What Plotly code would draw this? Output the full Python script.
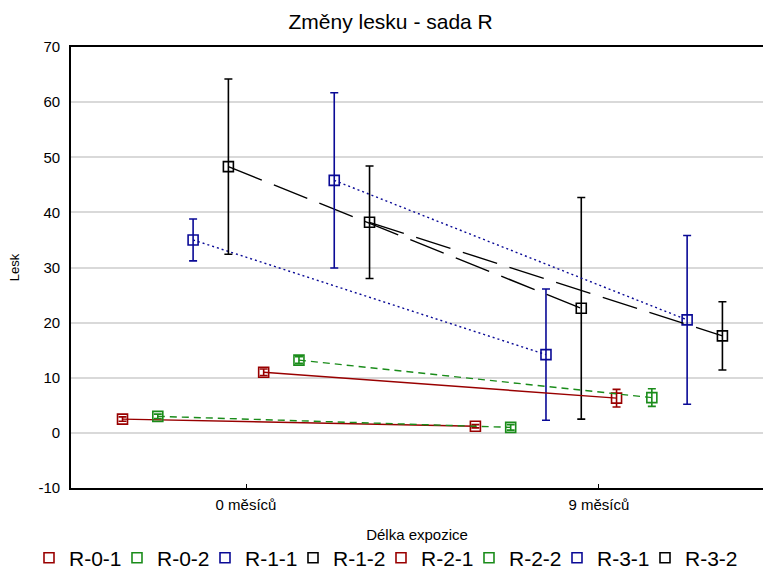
import plotly.graph_objects as go

# Exposure categories on the x axis
categories = ["0 měsíců", "9 měsíců"]

# Series names (sample sets)
series = ["R-0-1", "R-0-2", "R-1-1", "R-1-2", "R-2-1", "R-2-2", "R-3-1", "R-3-2"]

# Mean gloss at 0 and 9 months
mean_0 = [2.5, 3.0, 35.0, 48.3, 11.0, 13.2, 45.8, 38.2]
mean_9 = [1.2, 1.0, 14.2, 22.6, 6.3, 6.4, 20.5, 17.6]

# Error half-widths at 0 and 9 months
err_0 = [0.4, 0.4, 3.8, 15.9, 0.6, 0.6, 15.9, 10.2]
err_9 = [0.3, 0.5, 11.9, 20.1, 1.6, 1.6, 15.3, 6.2]

# Y axis tick values and labels (plain hyphen for negatives)
y_ticks = [-10, 0, 10, 20, 30, 40, 50, 60, 70]
y_labels = ["-10", "0", "10", "20", "30", "40", "50", "60", "70"]

colors = ["#990000", "#1a8c1a", "#0a0a96", "#000000",
          "#990000", "#1a8c1a", "#0a0a96", "#000000"]
dashes = ["solid", "7px,5px", "2px,3px", "36px,13px",
          "solid", "7px,5px", "2px,3px", "36px,13px"]

fig = go.Figure()
n = len(series)
for i, name in enumerate(series):
    off = 0.1 * (i - (n - 1) / 2)
    xs = [0 + off, 1 + off]
    ys = [mean_0[i], mean_9[i]]
    es = [err_0[i], err_9[i]]
    fig.add_trace(go.Scatter(
        x=xs, y=ys, mode="lines", showlegend=False, hoverinfo="skip",
        line=dict(color=colors[i], width=1.4, dash=dashes[i]),
    ))
    fig.add_trace(go.Scatter(
        x=xs, y=ys, mode="markers", name=name,
        # the last legend entry gets extra room so its label is not clipped
        legendwidth=62 if i == n - 1 else None,
        marker=dict(symbol="square-open", size=10, color=colors[i],
                    line=dict(width=1.6, color=colors[i])),
        error_y=dict(type="data", array=es, visible=True,
                     color=colors[i], thickness=1.6, width=4),
    ))

fig.update_layout(
    width=763, height=581,
    margin=dict(l=71, r=0, t=47, b=93),
    paper_bgcolor="white", plot_bgcolor="white",
    font=dict(family="Arial, Liberation Sans, sans-serif", color="#000000"),
    title=dict(text="Změny lesku - sada R", x=0.512, xanchor="center",
               y=1 - 22 / 581, yanchor="middle", yref="container",
               font=dict(size=21)),
    xaxis=dict(
        range=[-0.496, 1.465], tickvals=[0, 1], ticktext=categories,
        showgrid=False, zeroline=False, automargin=False,
        showline=True, linecolor="#000000", linewidth=1.8, mirror=True,
        ticks="inside", ticklen=4, tickcolor="#000000",
        tickfont=dict(size=15), ticklabelstandoff=2,
        title=dict(text="Délka expozice", font=dict(size=15), standoff=18),
    ),
    yaxis=dict(
        range=[-10, 70], tickvals=y_ticks, ticktext=y_labels,
        showgrid=True, gridcolor="#d9d9d9", gridwidth=1.5, zeroline=False,
        automargin=False,
        showline=True, linecolor="#000000", linewidth=1.8,
        ticks="", tickfont=dict(size=15), ticklabelstandoff=6,
        title=dict(text="Lesk", font=dict(size=13), standoff=16),
    ),
    legend=dict(orientation="h", xref="paper", yref="paper",
                x=-0.0607, xanchor="left", y=-0.1590, yanchor="middle",
                font=dict(size=21), itemwidth=30, tracegroupgap=0,
                entrywidth=43, entrywidthmode="pixels",
                bgcolor="rgba(0,0,0,0)"),
)

fig.write_html("out.html")
